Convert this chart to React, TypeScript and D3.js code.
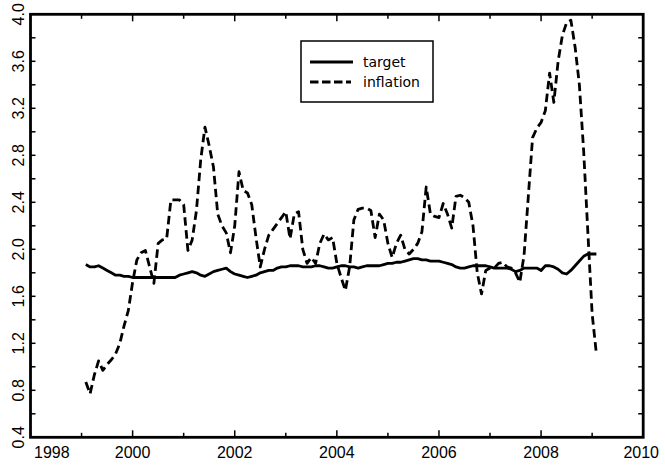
import React from "react";
import * as d3 from "d3";

// Monthly observations, Jan 1999 .. Jan 2009 (percent)
const START_YEAR = 1999;
const target: number[] = [
  1.87, 1.85, 1.85, 1.86, 1.84, 1.82, 1.80, 1.78, 1.78, 1.77, 1.77, 1.76,
  1.76, 1.76, 1.76, 1.76, 1.76, 1.76, 1.76, 1.76, 1.76, 1.76, 1.78, 1.79,
  1.80, 1.81, 1.80, 1.78, 1.77, 1.79, 1.81, 1.82, 1.83, 1.84, 1.81, 1.79,
  1.78, 1.77, 1.76, 1.77, 1.78, 1.80, 1.81, 1.82, 1.82, 1.84, 1.85, 1.85,
  1.86, 1.86, 1.86, 1.85, 1.85, 1.85, 1.86, 1.86, 1.85, 1.84, 1.84, 1.85,
  1.86, 1.86, 1.85, 1.85, 1.84, 1.85, 1.86, 1.86, 1.86, 1.86, 1.87, 1.88,
  1.88, 1.89, 1.89, 1.90, 1.91, 1.92, 1.92, 1.91, 1.91, 1.90, 1.90, 1.90,
  1.89, 1.88, 1.87, 1.85, 1.84, 1.84, 1.85, 1.86, 1.86, 1.86, 1.86, 1.85,
  1.84, 1.84, 1.84, 1.84, 1.83, 1.81, 1.82, 1.84, 1.84, 1.84, 1.84, 1.82,
  1.86, 1.86, 1.85, 1.83, 1.80, 1.79, 1.82, 1.86, 1.90, 1.94, 1.96, 1.96,
  1.96,
];
const inflation: number[] = [
  0.87, 0.77, 0.93, 1.05, 0.97, 1.02, 1.06, 1.11, 1.20, 1.35, 1.48, 1.72,
  1.91, 1.97, 1.99, 1.85, 1.71, 2.05, 2.08, 2.09, 2.42, 2.42, 2.42, 2.38,
  1.99, 2.08, 2.33, 2.76, 3.04, 2.88, 2.70, 2.30, 2.20, 2.14, 1.97, 2.20,
  2.66, 2.50, 2.48, 2.38, 2.10, 1.85, 2.00, 2.12, 2.17, 2.22, 2.27, 2.32,
  2.09, 2.30, 2.32, 2.00, 1.88, 1.93, 1.88, 2.05, 2.13, 2.08, 2.10, 1.88,
  1.76, 1.65, 1.85, 2.25, 2.34, 2.35, 2.35, 2.33, 2.10, 2.30, 2.25, 2.05,
  1.93, 2.05, 2.12, 2.00, 1.96, 2.00, 2.05, 2.15, 2.53, 2.30, 2.28, 2.27,
  2.39, 2.30, 2.18, 2.45, 2.46, 2.44, 2.40, 2.20, 1.80, 1.62, 1.82, 1.84,
  1.84, 1.88, 1.89, 1.85, 1.84, 1.80, 1.72, 1.95, 2.45, 2.95, 3.03, 3.08,
  3.18, 3.50, 3.25, 3.60, 3.82, 3.93, 3.95, 3.72, 3.40, 2.84, 2.14, 1.45,
  1.11,
];

const xTickLabels = [1998, 2000, 2002, 2004, 2006, 2008, 2010];
const yTickLabels = ["0.4", "0.8", "1.2", "1.6", "2.0", "2.4", "2.8", "3.2", "3.6", "4.0"];
const seriesNames = ["target", "inflation"];

const W = 665;
const H = 469;
const LEFT = 30.5;
const RIGHT = 643.2;
const TOP = 14.3;
const BOTTOM = 437.3;
const TICK_FONT = "'Liberation Sans', Arial, Helvetica, sans-serif";
const LEGEND_FONT = "'DejaVu Sans', Verdana, sans-serif";
const DASH = "8.5,4.5";

export default function App() {
  const x = d3.scaleLinear().domain([1998, 2010]).range([LEFT, RIGHT]);
  const y = d3.scaleLinear().domain([0.4, 4.0]).range([BOTTOM, TOP]);

  const dateOf = (i: number) => START_YEAR + (i + 1) / 12;
  const line = d3
    .line<number>()
    .x((_, i) => x(dateOf(i)))
    .y((v) => y(v));

  const yearTicks = d3.range(1999, 2010);
  const yMinor = d3.range(1, 18).map((k) => 0.4 + k * 0.2);

  return (
    <svg
      width={W}
      height={H}
      style={{ position: "absolute", left: 0, top: 0, background: "#fff" }}
    >
      <rect x={0} y={0} width={W} height={H} fill="#fff" />

      {/* data */}
      <path
        d={line(target) ?? ""}
        fill="none"
        stroke="#000"
        strokeWidth={2.8}
        strokeLinejoin="round"
      />
      <path
        d={line(inflation) ?? ""}
        fill="none"
        stroke="#000"
        strokeWidth={2.8}
        strokeDasharray={DASH}
        strokeLinejoin="round"
      />

      {/* year ticks on bottom and top */}
      {yearTicks.map((yr) => {
        const len = yr % 2 === 0 ? 7 : 4.5;
        const xx = x(yr);
        return (
          <g key={`xt${yr}`} stroke="#000" strokeWidth={1.5}>
            <line x1={xx} x2={xx} y1={BOTTOM} y2={BOTTOM - len} />
            <line x1={xx} x2={xx} y1={TOP} y2={TOP + len} />
          </g>
        );
      })}

      {/* value ticks on left and right */}
      {yMinor.map((v) => {
        const yy = y(v);
        return (
          <g key={`yt${v.toFixed(1)}`} stroke="#000" strokeWidth={1.5}>
            <line x1={LEFT} x2={LEFT + 5} y1={yy} y2={yy} />
            <line x1={RIGHT} x2={RIGHT - 5} y1={yy} y2={yy} />
          </g>
        );
      })}

      {/* frame */}
      <rect
        x={LEFT}
        y={TOP}
        width={RIGHT - LEFT}
        height={BOTTOM - TOP}
        fill="none"
        stroke="#000"
        strokeWidth={2.8}
      />

      {/* x labels */}
      {xTickLabels.map((yr, i) => {
        const first = i === 0;
        const last = i === xTickLabels.length - 1;
        const xx = first ? 34 : last ? x(yr) - 2 : x(yr);
        return (
          <text
            key={`xl${yr}`}
            x={xx}
            y={458}
            textAnchor={first ? "start" : "middle"}
            fontFamily={TICK_FONT}
            fontSize={16}
            fill="#000"
          >
            {yr}
          </text>
        );
      })}

      {/* y labels, rotated */}
      {yTickLabels.map((lab) => {
        const yy = y(+lab);
        return (
          <text
            key={`yl${lab}`}
            transform={`translate(24,${yy}) rotate(-90)`}
            textAnchor="middle"
            fontFamily={TICK_FONT}
            fontSize={16}
            fill="#000"
          >
            {lab}
          </text>
        );
      })}

      {/* legend */}
      <g>
        <rect
          x={301}
          y={41}
          width={132}
          height={61}
          fill="#fff"
          stroke="#000"
          strokeWidth={1.5}
        />
        <line x1={310} x2={353} y1={62} y2={62} stroke="#000" strokeWidth={2.8} />
        <line
          x1={310}
          x2={351}
          y1={82}
          y2={82}
          stroke="#000"
          strokeWidth={2.8}
          strokeDasharray="8.5,3.5"
        />
        {seriesNames.map((name, i) => (
          <text
            key={name}
            x={363}
            y={67 + i * 20}
            fontFamily={LEGEND_FONT}
            fontSize={14}
            fill="#000"
          >
            {name}
          </text>
        ))}
      </g>
    </svg>
  );
}
